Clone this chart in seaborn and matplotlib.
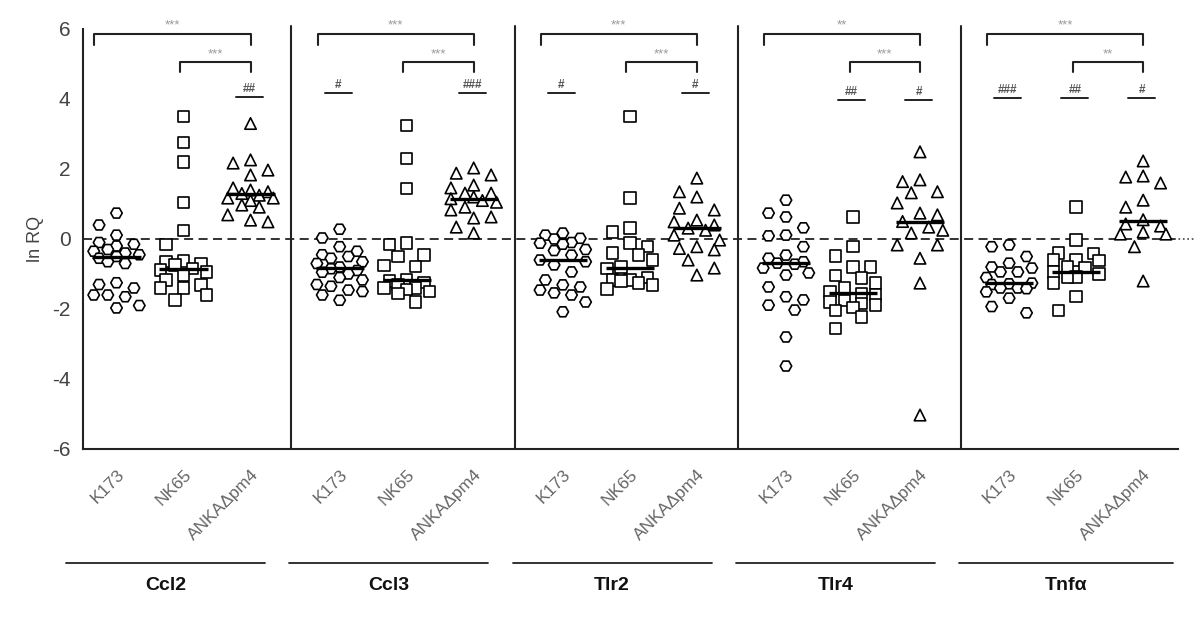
import numpy as np
import pandas as pd
import matplotlib
matplotlib.use('Agg')
import matplotlib.pyplot as plt
import matplotlib.transforms as mtransforms
import seaborn as sns

# genes and parasite strains
genes = ['Ccl2', 'Ccl3', 'Tlr2', 'Tlr4', 'Tnfα']
strains = ['K173', 'NK65', 'ANKAΔpm4']

# ln RQ values, one list per gene and strain
ccl2_k173 = [0.74, 0.4, 0.11, -0.1, -0.15, -0.2, -0.3, -0.35, -0.4, -0.45, -0.5,
             -0.55, -0.65, -0.7, -1.25, -1.3, -1.4, -1.6, -1.6, -1.65, -1.9, -1.97]
ccl2_nk65 = [3.5, 2.75, 2.2, 1.05, 0.25, -0.15, -0.63, -0.65, -0.7, -0.74,
             -0.85, -0.88, -0.94, -1.03, -1.17, -1.31, -1.4, -1.4, -1.6, -1.74]
ccl2_anka = [3.3, 2.26, 2.17, 1.97, 1.83, 1.46, 1.4, 1.35, 1.3, 1.25, 1.17, 1.17,
             1.1, 0.97, 0.91, 0.69, 0.54, 0.49]

ccl3_k173 = [0.28, 0.03, -0.22, -0.35, -0.45, -0.5, -0.55, -0.65, -0.7, -0.8, -0.85,
             -0.9, -0.95, -1.0, -1.1, -1.17, -1.3, -1.35, -1.46, -1.5, -1.6, -1.75]
ccl3_nk65 = [3.25, 2.3, 1.45, -0.12, -0.15, -0.46, -0.5, -0.75, -0.78, -1.15, -1.2,
             -1.25, -1.3, -1.4, -1.4, -1.45, -1.5, -1.55, -1.8]
ccl3_anka = [2.03, 1.88, 1.83, 1.54, 1.46, 1.31, 1.31, 1.2, 1.15, 1.1, 1.05, 0.91,
             0.83, 0.63, 0.6, 0.34, 0.17]

tlr2_k173 = [0.17, 0.11, 0.02, 0.0, -0.1, -0.12, -0.15, -0.3, -0.33, -0.46, -0.6,
             -0.65, -0.74, -0.94, -1.17, -1.31, -1.37, -1.46, -1.54, -1.6, -1.8, -2.08]
tlr2_nk65 = [3.5, 1.17, 0.31, 0.2, -0.12, -0.22, -0.4, -0.46, -0.6, -0.8, -0.85,
             -1.1, -1.17, -1.17, -1.2, -1.26, -1.31, -1.43]
tlr2_anka = [1.74, 1.35, 1.2, 0.88, 0.83, 0.54, 0.49, 0.4, 0.31, 0.25, 0.11, -0.03,
             -0.22, -0.27, -0.31, -0.6, -0.83, -1.03]

tlr4_k173 = [1.11, 0.74, 0.63, 0.32, 0.11, 0.09, -0.22, -0.46, -0.55, -0.65, -0.69,
             -0.72, -0.83, -0.97, -1.03, -1.37, -1.65, -1.74, -1.89, -2.03, -2.8, -3.63]
tlr4_nk65 = [0.63, -0.22, -0.49, -0.8, -0.8, -1.05, -1.11, -1.26, -1.4, -1.5, -1.55,
             -1.6, -1.75, -1.8, -1.85, -1.89, -1.95, -2.05, -2.23, -2.55]
tlr4_anka = [2.49, 1.69, 1.64, 1.35, 1.32, 1.03, 0.74, 0.69, 0.5, 0.34, 0.25, 0.17,
             -0.17, -0.17, -0.55, -1.26, -5.03]

tnf_k173 = [-0.17, -0.22, -0.5, -0.69, -0.8, -0.83, -0.94, -0.94, -1.1, -1.26, -1.28,
            -1.3, -1.4, -1.4, -1.42, -1.51, -1.69, -1.93, -2.11]
tnf_nk65 = [0.91, -0.03, -0.4, -0.42, -0.6, -0.6, -0.62, -0.8, -0.82, -0.94, -1.0,
            -1.08, -1.1, -1.26, -1.65, -2.05]
tnf_anka = [2.23, 1.8, 1.77, 1.6, 1.11, 0.91, 0.55, 0.43, 0.37, 0.2, 0.14, 0.14,
            -0.22, -1.2]

values = [[ccl2_k173, ccl2_nk65, ccl2_anka],
          [ccl3_k173, ccl3_nk65, ccl3_anka],
          [tlr2_k173, tlr2_nk65, tlr2_anka],
          [tlr4_k173, tlr4_nk65, tlr4_anka],
          [tnf_k173, tnf_nk65, tnf_anka]]

# horizontal bars drawn at the centre of each group (as read)
centre_lines = [[-0.5, -0.85, 1.3],
                [-0.83, -1.17, 1.14],
                [-0.6, -0.83, 0.31],
                [-0.69, -1.55, 0.49],
                [-1.26, -0.94, 0.52]]

# significance marks
stars_k173_anka = ['***', '***', '***', '**', '***']
stars_nk65_anka = ['***', '***', '***', '***', '**']
hashes = [['', '', '##'],
          ['#', '', '###'],
          ['#', '', '#'],
          ['', '##', '#'],
          ['###', '##', '#']]
hash_level = [4.06, 4.17, 4.17, 3.97, 4.02]

gene_step = 3.33
slots = [0.0, -0.26, 0.26, -0.13, 0.13, -0.34, 0.34]


def spread(vals):
    # bounded beeswarm: put each point in the first free column slot
    px_x, px_y, diam = 67.0, 35.0, 15.0
    placed = []
    offsets = {}
    order = np.argsort(vals)[::-1]
    for i in order:
        best, best_gap = slots[0], -1
        for s in slots:
            gap = min([np.hypot((s - o) * px_x, (vals[i] - v) * px_y)
                       for o, v in placed] or [99])
            if gap >= diam:
                best = s
                break
            if gap > best_gap:
                best, best_gap = s, gap
        placed.append((best, vals[i]))
        offsets[i] = best
    return [offsets[i] for i in range(len(vals))]


rows = []
for gi, gene in enumerate(genes):
    for si, strain in enumerate(strains):
        vals = values[gi][si]
        for v, off in zip(vals, spread(vals)):
            rows.append({'gene': gene, 'strain': strain, 'value': v,
                         'x': gi * gene_step + si + off})
df = pd.DataFrame(rows)

sns.set_style('white')
plt.rcParams['font.family'] = ['Liberation Sans', 'DejaVu Sans']
plt.rcParams['axes.unicode_minus'] = False

fig = plt.figure(figsize=(12, 6.24), dpi=100)
ax = fig.add_axes([83 / 1200, 1 - 449 / 624, 1095 / 1200, 420 / 624])

markers = {'K173': 'H', 'NK65': 's', 'ANKAΔpm4': '^'}
sns.scatterplot(data=df, x='x', y='value', style='strain', markers=markers,
                s=68, color='white', edgecolor='black', linewidth=1.2,
                legend=False, ax=ax, zorder=3)

ax.axhline(0, color='#222222', lw=1.3, ls=(0, (5, 3)), zorder=1)
ax.plot([15.45, 16.1], [0, 0], color='#444444', lw=1.2, ls=':', clip_on=False)

for gi, gene in enumerate(genes):
    x0 = gi * gene_step
    for si in range(3):
        ax.hlines(centre_lines[gi][si], x0 + si - 0.36, x0 + si + 0.36,
                  color='black', lw=2.4, zorder=4)
        h = hashes[gi][si]
        if h:
            ax.plot([x0 + si - 0.22, x0 + si + 0.18], [hash_level[gi]] * 2,
                    color='#222222', lw=1.4)
            ax.text(x0 + si - 0.02, hash_level[gi] + 0.06, h, ha='center', va='bottom',
                    fontsize=8.5, color='#555555', fontweight='bold')
    # bracket K173 - ANKA
    xl, xr = x0 - 0.33, x0 + 2
    ax.plot([xl, xl, xr, xr], [5.55, 5.87, 5.87, 5.55], color='#222222', lw=1.5,
            clip_on=False)
    ax.text((xl + xr) / 2, 5.93, stars_k173_anka[gi], ha='center', va='bottom',
            fontsize=9.5, color='#9a9a9a', clip_on=False)
    # bracket NK65 - ANKA
    xl = x0 + 0.95
    ax.plot([xl, xl, xr, xr], [4.77, 5.05, 5.05, 4.77], color='#222222', lw=1.5)
    ax.text((xl + xr) / 2, 5.11, stars_nk65_anka[gi], ha='center', va='bottom',
            fontsize=9.5, color='#9a9a9a')
    if gi > 0:
        ax.plot([x0 - 0.72] * 2, [-6, 6.1], color='#222222', lw=1.5, clip_on=False)

ax.set_xlim(-0.5, 4 * gene_step + 2.52)
ax.set_ylim(-6, 6)
ax.set_yticks([-6, -4, -2, 0, 2, 4, 6])
ax.set_ylabel('ln RQ', fontsize=13, color='#444444', labelpad=6)

tick_pos = [gi * gene_step + si for gi in range(len(genes)) for si in range(3)]
ax.set_xticks(tick_pos)
ax.set_xticklabels(strains * len(genes), rotation=45, ha='right',
                   rotation_mode='anchor', fontsize=12.5, color='#666666')
ax.set_xlabel('')
ax.tick_params(axis='both', direction='out', length=7, width=1.4, color='#222222')
ax.tick_params(axis='y', labelsize=15, labelcolor='#444444', pad=2)
ax.tick_params(axis='x', pad=6)

for side in ['top', 'right']:
    ax.spines[side].set_visible(False)
for side in ['left', 'bottom']:
    ax.spines[side].set_color('#222222')
    ax.spines[side].set_linewidth(1.5)

# gene group labels below the axis
trans = mtransforms.blended_transform_factory(ax.transData, fig.transFigure)
for gi, gene in enumerate(genes):
    x0 = gi * gene_step
    right = x0 + (2.45 if gi == len(genes) - 1 else 2.22)
    ax.plot([x0 - 0.75, right], [0.098, 0.098], color='#222222', lw=1.3,
            transform=trans, clip_on=False)
    ax.text((x0 - 0.75 + right) / 2, 0.062, gene, transform=trans, ha='center',
            va='center', fontsize=14, fontweight='bold', color='#111111')

fig.savefig('out.png', dpi=100)
